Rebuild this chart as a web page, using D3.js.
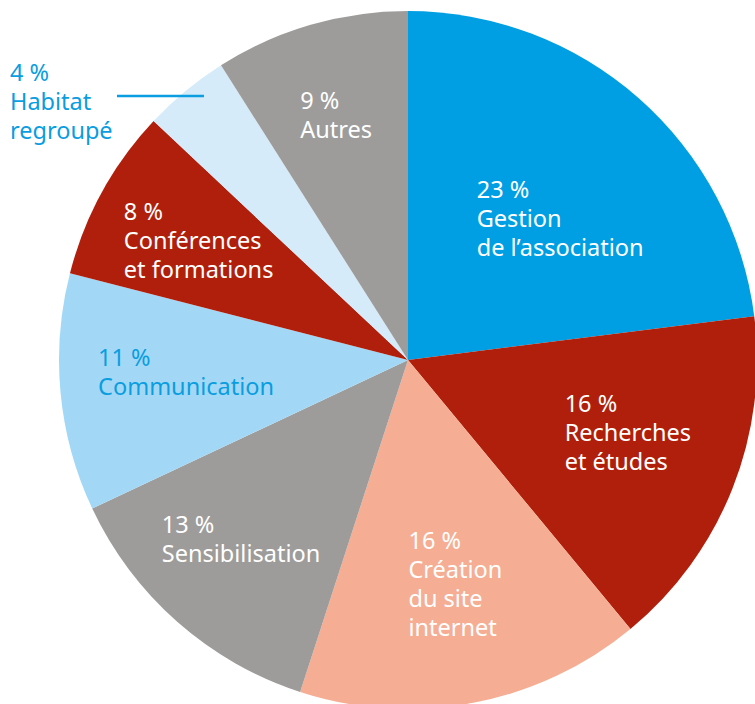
<!DOCTYPE html>
<html>
<head>
<meta charset="utf-8">
<script src="https://cdn.jsdelivr.net/npm/d3@7"></script>
<style>
  body { margin: 0; background: #fff; }
  text { font-family: "Noto Sans", "Open Sans", sans-serif; font-size: 23.5px; }
</style>
</head>
<body>
<div id="chart"></div>
<script>
// slice data, clockwise from 12 o'clock
const categories = ['Gestion\nde l\u2019association', 'Recherches\net études', 'Création\ndu site\ninternet',
    'Sensibilisation', 'Communication', 'Conférences\net formations', 'Habitat\nregroupé', 'Autres']
const shares = [23, 16, 16, 13, 11, 8, 4, 9]
const fills = ['#009fe3', '#b01f0b', '#f5ae94', '#9d9c9b', '#a2d8f6', '#b01f0b', '#d5ebfa', '#9d9c9b']
const textColors = ['#fff', '#fff', '#fff', '#fff', '#0a9de0', '#fff', '#0a9de0', '#fff']
// where each label block sits: fraction of radius, and turn (degrees) off the mid angle
const labelRadius = [0.594, 0.664, 0.658, 0.703, 0.637, 0.69, 0.956, 0.73]
const labelTurn = [5.8, -3.2, -1.1, 1.5, 2.2, 0.8, 1.9, -0.2]

const width = 755, height = 704
const cx = 408, cy = 360, radius = 349
const lineHeight = 29

const slices = shares.map((v, i) => ({ value: v, name: categories[i], i: i }))

let svg = d3.select('#chart').append('svg')
    .attr('width', width)
    .attr('height', height)

let g = svg.append('g')
    .attr('transform', 'translate(' + cx + ',' + cy + ')')

let pie = d3.pie()
    .value(d => d.value)
    .sort(null)

let arc = d3.arc()
    .innerRadius(0)
    .outerRadius(radius)

let arcs = pie(slices)

g.selectAll('path')
    .data(arcs)
    .enter().append('path')
    .attr('d', arc)
    .attr('fill', d => fills[d.data.i])

function labelLines(d) {
    return [d.data.value + ' %'].concat(d.data.name.split('\n'))
}

arcs.forEach(d => {
    const i = d.data.i
    const lines = labelLines(d)
    const mid = (d.startAngle + d.endAngle) / 2 + labelTurn[i] * Math.PI / 180
    const r = radius * labelRadius[i]
    const px = Math.sin(mid) * r, py = -Math.cos(mid) * r

    if (d.data.name.startsWith('Habitat')) {
        // outside label with a leader line
        const textX = 10 - cx
        g.append('line')
            .attr('x1', 117 - cx).attr('x2', px)
            .attr('y1', py).attr('y2', py)
            .attr('stroke', textColors[i])
            .attr('stroke-width', 2.5)
        const t = g.append('text')
            .attr('fill', textColors[i])
        lines.forEach((l, k) => {
            t.append('tspan')
                .attr('x', textX)
                .attr('y', py - 15 + k * lineHeight)
                .text(l)
        })
        return
    }

    // inside labels, block centred on the point
    const t = g.append('text').attr('fill', textColors[i])
    const spans = lines.map(l => t.append('tspan').text(l))
    const w = d3.max(spans, s => s.node().getComputedTextLength())
    const firstCenter = py - (lines.length - 1) * lineHeight / 2
    spans.forEach((s, k) => {
        s.attr('x', px - w / 2)
         .attr('y', firstCenter + k * lineHeight + 8)
    })
})
</script>
</body>
</html>
